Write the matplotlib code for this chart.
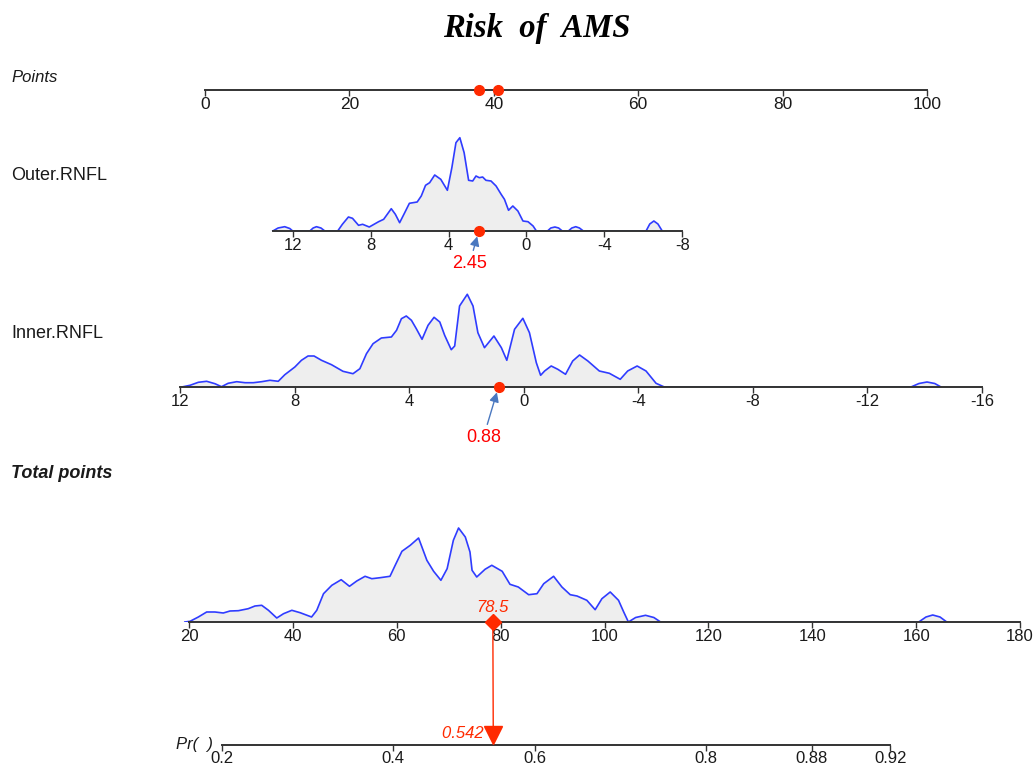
import matplotlib
matplotlib.use('Agg')
import matplotlib.pyplot as plt
import numpy as np
from matplotlib.patches import ConnectionPatch
from matplotlib.ticker import NullLocator

# Styling constants
W, H = 1036, 768
TEXT_COLOR = '#1a1a1a'
AXIS_COLOR = '#333333'
DENS_LINE = '#2f3cff'
DENS_FILL = '#eeeeee'
RED = '#ff2a00'
ARROW_BLUE = '#4a78c0'

plt.rcParams['font.family'] = 'Liberation Sans'
plt.rcParams['axes.unicode_minus'] = False

TITLE = 'Risk  of  AMS'

# Scales
points_ticks = [0, 20, 40, 60, 80, 100]
outer_ticks = [12, 8, 4, 0, -4, -8]
inner_ticks = [12, 8, 4, 0, -4, -8, -12, -16]
total_ticks = [20, 40, 60, 80, 100, 120, 140, 160, 180]
pr_ticks = [0.2, 0.4, 0.6, 0.8, 0.88, 0.92]
pr_labels = ['0.2', '0.4', '0.6', '0.8', '0.88', '0.92']

# Observation being scored
outer_value = 2.45
inner_value = 0.88
outer_points = 37.9
inner_points = 40.6
total_points = 78.5
pr_value = 0.542

# Density of Outer.RNFL (relative height)
outer_x = [13.02, 12.75, 12.41, 12.15, 12.0, 11.12, 10.95, 10.78, 10.55, 10.35,
           9.69, 9.45, 9.14, 8.93, 8.62, 8.41, 8.07, 7.59, 7.33, 6.94,
           6.73, 6.51, 6.25, 6.01, 5.61, 5.40, 5.18, 4.97, 4.71, 4.40,
           4.06, 3.83, 3.62, 3.42, 3.20, 2.97, 2.76, 2.59, 2.42, 2.25,
           2.08, 1.82, 1.56, 1.30, 1.13, 0.92, 0.70, 0.44, 0.18, -0.08,
           -0.34, -0.51, -1.08, -1.25, -1.46, -1.65, -1.84, -2.15, -2.33, -2.53,
           -2.72, -2.92, -6.14, -6.33, -6.54, -6.75, -6.97]
outer_d = [0, 3.0, 4.3, 2.5, 0, 0, 3.0, 4.3, 3.0, 0,
           0, 6.7, 14, 12.7, 5.7, 6.7, 4, 9.3, 11.7, 22.3,
           16.7, 8.3, 18.3, 27.7, 29, 35, 45.7, 48.3, 56, 51.7,
           40.7, 63.3, 88.3, 93.3, 78.3, 50.7, 50, 55, 53.3, 54,
           50.7, 50, 45, 36.7, 31.7, 20.7, 25, 20, 10, 9.3,
           5, 0, 0, 3, 4, 3, 0, 0, 3, 4.3,
           3, 0, 0, 7, 10, 7, 0]

# Density of Inner.RNFL
inner_x = [11.94, 11.65, 11.36, 11.07, 10.78, 10.55, 10.32, 10.02, 9.73, 9.44,
           9.15, 8.86, 8.57, 8.34, 7.99, 7.76, 7.53, 7.32, 7.06, 6.71,
           6.31, 5.96, 5.72, 5.49, 5.26, 4.97, 4.62, 4.44, 4.27, 4.10,
           3.92, 3.75, 3.55, 3.34, 3.13, 2.93, 2.76, 2.53, 2.41, 2.24,
           1.97, 1.77, 1.60, 1.37, 1.04, 0.78, 0.59, 0.32, 0.03, -0.20,
           -0.44, -0.59, -0.73, -0.96, -1.19, -1.46, -1.71, -1.95, -2.24, -2.64,
           -2.99, -3.37, -3.63, -3.96, -4.27, -4.62, -4.91, -13.52, -13.80, -14.08,
           -14.35, -14.57]
inner_d = [0, 1.7, 4.7, 5.7, 3.3, 0.3, 3.7, 5.3, 4.3, 4.3,
           5.3, 6.7, 5.7, 12.3, 20, 26.7, 31, 31, 26.7, 22.3,
           15.7, 13.3, 18.3, 33.3, 43.3, 49, 50, 56.7, 68.3, 71,
           66.7, 58.3, 47.7, 61.7, 69.7, 65, 51.7, 37.3, 41, 81,
           92.7, 81, 54.3, 39.3, 51, 39.3, 26.7, 57.7, 68.7, 54.3,
           24.3, 11.7, 16, 21, 17.7, 12.7, 26, 32, 26, 16,
           13.7, 7.7, 16, 21, 16, 3.7, 0, 0, 3.5, 5,
           3.5, 0]

# Density of total points
total_x = [19.2, 20.2, 21.8, 23.4, 25.0, 26.6, 27.9, 29.5, 31.4, 32.7,
           34.0, 35.3, 36.9, 38.2, 39.8, 41.4, 43.6, 44.6, 45.9, 47.5,
           49.3, 50.9, 52.3, 53.9, 55.2, 56.8, 58.7, 59.7, 61.0, 62.6,
           64.2, 65.8, 67.1, 68.5, 69.7, 70.9, 71.9, 73.2, 74.1, 74.5,
           75.4, 77.0, 78.3, 80.3, 81.8, 83.4, 85.4, 87.0, 88.3, 90.2,
           91.8, 93.4, 94.7, 96.6, 98.2, 99.5, 101.1, 102.7, 103.7, 104.6,
           106.0, 107.9, 109.5, 110.8, 160.5, 161.9, 163.2, 164.6, 165.9]
total_d = [0, 0.7, 5, 10, 10, 9, 11, 11.3, 13.3, 16,
           16.7, 11.7, 4, 8.3, 11.7, 9.3, 5, 11.7, 28.3, 36.7,
           42.3, 35.7, 41, 45.7, 43.3, 44.3, 45.7, 56.7, 70.7, 76.7,
           84, 61.7, 50.7, 41.7, 53.3, 81.7, 94, 85, 70, 51.7,
           45, 52.7, 56.7, 50.7, 37.7, 35, 27.3, 28.3, 38.3, 45.7,
           35, 27.3, 26, 21.7, 12.3, 23.3, 30, 21.7, 10, 0,
           4.5, 6.7, 4.5, 0, 0, 5, 7, 5, 0]


def fx(px):
    return px / W


def fy(py):
    return 1 - py / H


def linear_lim(v0, p0, v1, p1):
    k = (v1 - v0) / (p1 - p0)
    return v0 - p0 * k, v0 + (W - p0) * k


def logit_lim(v0, p0, v1, p1):
    l0, l1 = np.log(v0 / (1 - v0)), np.log(v1 / (1 - v1))
    k = (l1 - l0) / (p1 - p0)
    lo, hi = l0 - p0 * k, l0 + (W - p0) * k
    return 1 / (1 + np.exp(-lo)), 1 / (1 + np.exp(-hi))


def row_axes(fig, baseline, height, xlim, ticks, bounds, labelsize=12, pad=1):
    ax = fig.add_axes([0, fy(baseline), 1, height / H])
    ax.set_facecolor('none')
    ax.set_ylim(0, height)
    ax.set_xlim(*xlim)
    for s in ['top', 'left', 'right']:
        ax.spines[s].set_visible(False)
    ax.spines['bottom'].set_color(AXIS_COLOR)
    ax.spines['bottom'].set_linewidth(1.4)
    ax.spines['bottom'].set_zorder(3)
    ax.spines['bottom'].set_bounds(*bounds)
    ax.set_yticks([])
    ax.set_xticks(ticks)
    ax.tick_params(axis='x', direction='out', length=4, width=1, color=AXIS_COLOR,
                   labelsize=labelsize, labelcolor=TEXT_COLOR, pad=pad)
    return ax


def density(ax, xs, ds):
    ax.fill_between(xs, 0, ds, color=DENS_FILL, lw=0, zorder=1)
    ax.plot(xs, ds, color=DENS_LINE, lw=1.2, zorder=2)


fig = plt.figure(figsize=(W / 100, H / 100), dpi=100)

# Title
fig.text(fx(537), fy(28), TITLE, family='Liberation Serif', style='italic',
         weight='bold', size=23.5, ha='center', va='center', color='black')

# Row labels
fig.text(fx(11), fy(77), 'Points', style='italic', size=12, va='center', color=TEXT_COLOR)
fig.text(fx(11), fy(176), 'Outer.RNFL', size=13, va='center', color=TEXT_COLOR)
fig.text(fx(11), fy(333), 'Inner.RNFL', size=13, va='center', color=TEXT_COLOR)
fig.text(fx(11), fy(473), 'Total points', style='italic', weight='bold', size=13,
         va='center', color=TEXT_COLOR)
fig.text(fx(176), fy(745), 'Pr(  )', style='italic', size=12, va='center', color=TEXT_COLOR)

# Points row
ax_pts = row_axes(fig, 90, 20, linear_lim(0, 205, 100, 927), points_ticks, (0, 100), labelsize=12.5)
ax_pts.plot([outer_points, inner_points], [0, 0], 'o', color=RED, ms=7, zorder=4, clip_on=False)

# Outer.RNFL row
ax_out = row_axes(fig, 231, 100, linear_lim(12, 292.7, -8, 682.3), outer_ticks, (13.03, -8))
density(ax_out, outer_x, outer_d)
ax_out.plot(outer_value, 0, 'o', color=RED, ms=7, zorder=4, clip_on=False)
ax_out.annotate(f'{outer_value:.2f}', xy=(outer_value, 0), xytext=(-9, -32),
                textcoords='offset pixels', ha='center', va='center', color='red', size=13,
                arrowprops=dict(arrowstyle='-|>', color=ARROW_BLUE, lw=1,
                                mutation_scale=14, shrinkA=1, shrinkB=4))

# Inner.RNFL row
ax_in = row_axes(fig, 387, 102, linear_lim(12, 180, -16, 982), inner_ticks, (12, -16))
density(ax_in, inner_x, inner_d)
ax_in.plot(inner_value, 0, 'o', color=RED, ms=7, zorder=4, clip_on=False)
ax_in.annotate(f'{inner_value:.2f}', xy=(inner_value, 0), xytext=(-15, -50),
               textcoords='offset pixels', ha='center', va='center', color='red', size=13,
               arrowprops=dict(arrowstyle='-|>', color=ARROW_BLUE, lw=1,
                               mutation_scale=14, shrinkA=1, shrinkB=4))

# Total points row
ax_tot = row_axes(fig, 622, 107, linear_lim(20, 189, 180, 1020), total_ticks, (20, 180))
density(ax_tot, total_x, total_d)
ax_tot.plot(total_points, 0, 'D', color=RED, ms=8.5, zorder=5, clip_on=False)
ax_tot.text(total_points, 14, f'{total_points}', style='italic', color=RED, size=12,
            ha='center', va='center', zorder=5)

# Probability row (logit scale)
ax_pr = fig.add_axes([0, fy(745), 1, 40 / H])
ax_pr.set_facecolor('none')
ax_pr.set_xscale('logit')
ax_pr.set_xlim(*logit_lim(0.4, 393, 0.8, 706))
ax_pr.set_ylim(0, 40)
for s in ['top', 'left', 'right']:
    ax_pr.spines[s].set_visible(False)
ax_pr.spines['bottom'].set_color(AXIS_COLOR)
ax_pr.spines['bottom'].set_linewidth(1.4)
ax_pr.spines['bottom'].set_bounds(0.2, 0.92)
ax_pr.set_yticks([])
ax_pr.set_xticks(pr_ticks, pr_labels)
ax_pr.xaxis.set_minor_locator(NullLocator())
ax_pr.tick_params(axis='x', direction='out', length=4, width=1, color=AXIS_COLOR,
                  labelsize=12, labelcolor=TEXT_COLOR, pad=0)
ax_pr.plot(pr_value, 10, 'v', color=RED, ms=13, zorder=5, clip_on=False)
ax_pr.text(pr_value, 12, f'{pr_value}  ', style='italic', color=RED, size=12,
           ha='right', va='center')

# Red link from total points down to probability
con = ConnectionPatch(xyA=(total_points, 0), coordsA='data', axesA=ax_tot,
                      xyB=(pr_value, 16), coordsB='data', axesB=ax_pr,
                      color=RED, lw=1, zorder=4)
fig.add_artist(con)

plt.savefig('out.png', dpi=100, facecolor='white')
plt.close()
